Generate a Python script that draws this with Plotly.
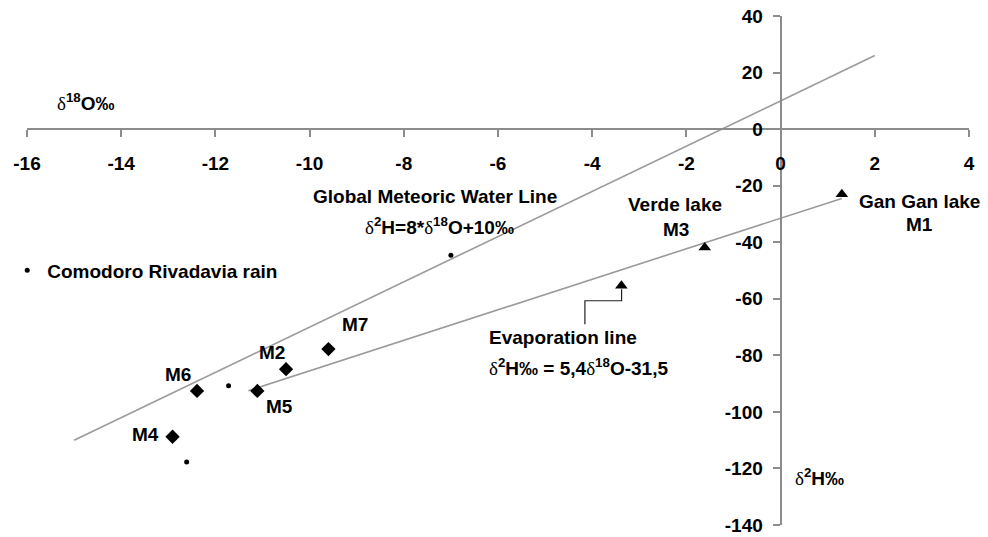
import plotly.graph_objects as go

# ---------------- data ----------------
rain_d18O = [-7.0, -11.72, -12.61]
rain_d2H = [-44.6, -90.8, -117.7]

groundwater_names = ["M6", "M5", "M2", "M7", "M4"]
groundwater_d18O = [-12.39, -11.11, -10.50, -9.60, -12.91]
groundwater_d2H = [-92.6, -92.6, -84.9, -77.8, -108.8]

lake_names = ["Gan Gan lake M1", "Verde lake M3", "Evaporation line point"]
lake_d18O = [1.30, -1.61, -3.38]
lake_d2H = [-23.0, -41.9, -55.4]

gmwl_d18O = [-15.0, 2.0]
gmwl_d2H = [-110.0, 26.0]

evap_d18O = [-11.3, 1.3]
evap_d2H = [-92.5, -24.5]

connector_d18O = [-4.155, -4.155, -3.376, -3.376]
connector_d2H = [-69.0, -60.7, -60.7, -56.6]

x_tick_vals = [-16, -14, -12, -10, -8, -6, -4, -2, 0, 2, 4]
x_tick_text = ["-16", "-14", "-12", "-10", "-8", "-6", "-4", "-2", "0", "2", "4"]
y_tick_vals = [-140, -120, -100, -80, -60, -40, -20, 0, 20, 40]
y_tick_text = ["-140", "-120", "-100", "-80", "-60", "-40", "-20", "0", "20", "40"]

# ---------------- figure ----------------
FONT = "Liberation Sans"
D = '<span style="font-family:Liberation Serif;font-weight:normal">δ</span>'

fig = go.Figure()

fig.add_trace(go.Scatter(x=gmwl_d18O, y=gmwl_d2H, mode="lines",
                         line=dict(color="#9a9a9a", width=1.6), showlegend=False, hoverinfo="skip"))
fig.add_trace(go.Scatter(x=evap_d18O, y=evap_d2H, mode="lines",
                         line=dict(color="#9a9a9a", width=1.6), showlegend=False, hoverinfo="skip"))
fig.add_trace(go.Scatter(x=connector_d18O, y=connector_d2H, mode="lines",
                         line=dict(color="#222222", width=1.2), showlegend=False, hoverinfo="skip"))

fig.add_trace(go.Scatter(x=rain_d18O, y=rain_d2H, mode="markers", name="Comodoro Rivadavia rain",
                         marker=dict(symbol="circle", size=5, color="black"), showlegend=True))
fig.add_trace(go.Scatter(x=groundwater_d18O, y=groundwater_d2H, mode="markers", text=groundwater_names,
                         marker=dict(symbol="diamond", size=11, color="black"), showlegend=False))
fig.add_trace(go.Scatter(x=lake_d18O, y=lake_d2H, mode="markers", text=lake_names,
                         marker=dict(symbol="triangle-up", size=11, color="black"), showlegend=False))

labels = [
    (D + "<sup>18</sup>O‰", -15.4, 9.5, "left"),
    ("Global Meteoric Water Line", -7.33, -24.0, "center"),
    (D + "<sup>2</sup>H=8*" + D + "<sup>18</sup>O+10‰", -7.25, -34.2, "center"),
    ("Verde lake", -2.246, -26.5, "center"),
    ("M3", -2.224, -35.4, "center"),
    ("Gan Gan lake", 2.943, -25.7, "center"),
    ("M1", 2.953, -33.6, "center"),
    ("M7", -9.03, -69.0, "center"),
    ("M2", -10.80, -79.0, "center"),
    ("M6", -12.80, -86.7, "center"),
    ("M5", -10.63, -98.1, "center"),
    ("M4", -13.48, -107.9, "center"),
    ("Evaporation line", -6.24, -73.7, "left"),
    (D + "<sup>2</sup>H‰ = 5,4" + D + "<sup>18</sup>O-31,5", -6.24, -84.3, "left"),
    (D + "<sup>2</sup>H‰", 0.265, -123.2, "left"),
]
for txt, x, y, anc in labels:
    fig.add_annotation(x=x, y=y, xref="x", yref="y", text=txt, showarrow=False,
                       xanchor=anc, yanchor="middle",
                       font=dict(family=FONT, size=19, color="black", weight="bold"))

tickfont = dict(family=FONT, size=19, color="black", weight="bold")
fig.update_layout(
    width=988, height=537,
    margin=dict(l=27, r=19, t=16, b=12, autoexpand=False),
    plot_bgcolor="white", paper_bgcolor="white",
    xaxis=dict(range=[-16, 4], tickmode="array", tickvals=x_tick_vals, ticktext=x_tick_text,
               showgrid=False, zeroline=False, showline=True, linecolor="#8c8c8c", linewidth=2,
               ticks="outside", ticklen=7, tickwidth=1.5, tickcolor="#8c8c8c", automargin=False,
               anchor="free", position=140 / 180, tickfont=tickfont, ticklabelstandoff=10),
    yaxis=dict(range=[-140, 40], tickmode="array", tickvals=y_tick_vals, ticktext=y_tick_text,
               showgrid=False, zeroline=False, showline=True, linecolor="#8c8c8c", linewidth=2,
               ticks="outside", ticklen=7, tickwidth=1.5, tickcolor="#8c8c8c", automargin=False,
               anchor="free", position=0.8, tickfont=tickfont, ticklabelstandoff=6),
    legend=dict(x=-0.021, y=0.5, xanchor="left", yanchor="middle", bgcolor="rgba(0,0,0,0)",
                font=dict(family=FONT, size=19, color="black", weight="bold"), itemwidth=30),
    showlegend=True,
)

fig.write_html("out.html", config={"displayModeBar": False},
               post_script="document.body.style.margin='0px';")
